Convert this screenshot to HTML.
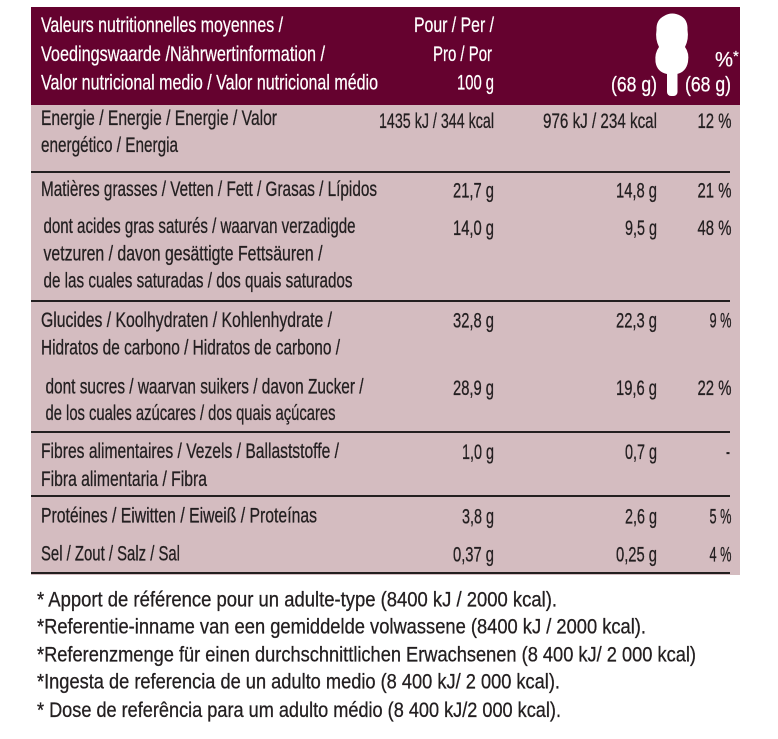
<!DOCTYPE html>
<html>
<head>
<meta charset="utf-8">
<style>
html,body{margin:0;padding:0;background:#fff;}
svg{display:block;}
text{font-family:"Liberation Sans",sans-serif;}
.h{fill:#ffffff;font-size:21px;stroke:#ffffff;stroke-width:0.25px;}
.l{fill:#231f20;font-size:21px;stroke:#231f20;stroke-width:0.3px;}
.v{fill:#231f20;font-size:21px;text-anchor:end;stroke:#231f20;stroke-width:0.3px;}
.f{fill:#231f20;font-size:21px;stroke:#231f20;stroke-width:0.3px;}
</style>
</head>
<body>
<svg width="778" height="739" viewBox="0 0 778 739" xmlns="http://www.w3.org/2000/svg">
  <!-- header -->
  <rect x="31" y="7" width="709" height="98" fill="#65022f"/>
  <!-- body -->
  <rect x="31" y="105" width="709" height="470" fill="#d4bcc0"/>

  <!-- header texts -->
  <text class="h" x="41" y="32" textLength="242" lengthAdjust="spacingAndGlyphs">Valeurs nutritionnelles moyennes /</text>
  <text class="h" x="41" y="61" textLength="284" lengthAdjust="spacingAndGlyphs">Voedingswaarde /Nährwertinformation /</text>
  <text class="h" x="41" y="89.5" textLength="337" lengthAdjust="spacingAndGlyphs">Valor nutricional medio / Valor nutricional médio</text>

  <text class="h" x="494" y="32" text-anchor="end" textLength="80" lengthAdjust="spacingAndGlyphs">Pour / Per /</text>
  <text class="h" x="492" y="61" text-anchor="end" textLength="59" lengthAdjust="spacingAndGlyphs">Pro / Por</text>
  <text class="h" x="494" y="89.5" text-anchor="end" textLength="37" lengthAdjust="spacingAndGlyphs">100 g</text>

  <text class="h" x="611" y="91.5" textLength="46" lengthAdjust="spacingAndGlyphs">(68 g)</text>
  <text class="h" x="685" y="91.5" textLength="46" lengthAdjust="spacingAndGlyphs">(68 g)</text>
  <text class="h" x="715" y="66.5" textLength="18" lengthAdjust="spacingAndGlyphs">%</text>
  <text class="h" x="733" y="61" style="font-size:15px">*</text>

  <!-- ice cream icon -->
  <g fill="#ffffff">
    <path d="M664 16 Q672 11 681 16 Q688 20 687.5 30 Q689 39 685 47 Q689.5 53 688 62 Q686 72 677 74 L667 74 Q657 72 655.5 62 Q654.5 53 659 47 Q655 39 656.5 30 Q656 20 664 16 Z"/>
    <rect x="667" y="70" width="10.5" height="26" rx="4"/>
  </g>

  <!-- separator lines -->
  <g fill="#231f20">
    <rect x="31" y="171" width="699" height="2"/>
    <rect x="31" y="300" width="699" height="2"/>
    <rect x="31" y="431" width="699" height="2"/>
    <rect x="31" y="495" width="699" height="2"/>
    <rect x="31" y="572" width="699" height="2"/>
  </g>

  <!-- labels -->
  <text class="l" x="41" y="125" textLength="236" lengthAdjust="spacingAndGlyphs">Energie / Energie / Energie / Valor</text>
  <text class="l" x="41" y="152" textLength="137" lengthAdjust="spacingAndGlyphs">energético / Energia</text>
  <text class="l" x="41" y="196" textLength="336" lengthAdjust="spacingAndGlyphs">Matières grasses / Vetten / Fett / Grasas / Lípidos</text>
  <text class="l" x="43.5" y="233" textLength="312" lengthAdjust="spacingAndGlyphs">dont acides gras saturés / waarvan verzadigde</text>
  <text class="l" x="43.5" y="260.5" textLength="279" lengthAdjust="spacingAndGlyphs">vetzuren / davon gesättigte Fettsäuren /</text>
  <text class="l" x="43.5" y="287.5" textLength="309" lengthAdjust="spacingAndGlyphs">de las cuales saturadas / dos quais saturados</text>
  <text class="l" x="41" y="327" textLength="291" lengthAdjust="spacingAndGlyphs">Glucides / Koolhydraten / Kohlenhydrate /</text>
  <text class="l" x="41" y="354.5" textLength="299" lengthAdjust="spacingAndGlyphs">Hidratos de carbono / Hidratos de carbono /</text>
  <text class="l" x="45.5" y="393.5" textLength="318" lengthAdjust="spacingAndGlyphs">dont sucres / waarvan suikers / davon Zucker /</text>
  <text class="l" x="45.5" y="420" textLength="290" lengthAdjust="spacingAndGlyphs">de los cuales azúcares / dos quais açúcares</text>
  <text class="l" x="41" y="458" textLength="298" lengthAdjust="spacingAndGlyphs">Fibres alimentaires / Vezels / Ballaststoffe /</text>
  <text class="l" x="41" y="486" textLength="166" lengthAdjust="spacingAndGlyphs">Fibra alimentaria / Fibra</text>
  <text class="l" x="41" y="522.5" textLength="276" lengthAdjust="spacingAndGlyphs">Protéines / Eiwitten / Eiweiß / Proteínas</text>
  <text class="l" x="41" y="560.5" textLength="139" lengthAdjust="spacingAndGlyphs">Sel / Zout / Salz / Sal</text>

  <!-- values -->
  <text class="v" x="494" y="128" textLength="115" lengthAdjust="spacingAndGlyphs">1435 kJ / 344 kcal</text>
  <text class="v" x="657" y="128" textLength="114" lengthAdjust="spacingAndGlyphs">976 kJ / 234 kcal</text>
  <text class="v" x="731.5" y="128" textLength="34" lengthAdjust="spacingAndGlyphs">12 %</text>

  <text class="v" x="494" y="197.5" textLength="41" lengthAdjust="spacingAndGlyphs">21,7 g</text>
  <text class="v" x="657" y="197.5" textLength="41" lengthAdjust="spacingAndGlyphs">14,8 g</text>
  <text class="v" x="731.5" y="197.5" textLength="34" lengthAdjust="spacingAndGlyphs">21 %</text>

  <text class="v" x="494" y="235" textLength="41" lengthAdjust="spacingAndGlyphs">14,0 g</text>
  <text class="v" x="657" y="235" textLength="32" lengthAdjust="spacingAndGlyphs">9,5 g</text>
  <text class="v" x="731.5" y="235" textLength="34" lengthAdjust="spacingAndGlyphs">48 %</text>

  <text class="v" x="494" y="327.5" textLength="41" lengthAdjust="spacingAndGlyphs">32,8 g</text>
  <text class="v" x="657" y="327.5" textLength="41" lengthAdjust="spacingAndGlyphs">22,3 g</text>
  <text class="v" x="731.5" y="327.5" textLength="22" lengthAdjust="spacingAndGlyphs">9 %</text>

  <text class="v" x="494" y="395" textLength="41" lengthAdjust="spacingAndGlyphs">28,9 g</text>
  <text class="v" x="657" y="395" textLength="41" lengthAdjust="spacingAndGlyphs">19,6 g</text>
  <text class="v" x="731.5" y="395" textLength="34" lengthAdjust="spacingAndGlyphs">22 %</text>

  <text class="v" x="494" y="459" textLength="32" lengthAdjust="spacingAndGlyphs">1,0 g</text>
  <text class="v" x="657" y="459" textLength="32" lengthAdjust="spacingAndGlyphs">0,7 g</text>
  <text class="v" x="730" y="459" textLength="4" lengthAdjust="spacingAndGlyphs">-</text>

  <text class="v" x="494" y="523.5" textLength="32" lengthAdjust="spacingAndGlyphs">3,8 g</text>
  <text class="v" x="657" y="523.5" textLength="32" lengthAdjust="spacingAndGlyphs">2,6 g</text>
  <text class="v" x="731.5" y="523.5" textLength="22" lengthAdjust="spacingAndGlyphs">5 %</text>

  <text class="v" x="494" y="561.5" textLength="41" lengthAdjust="spacingAndGlyphs">0,37 g</text>
  <text class="v" x="657" y="561.5" textLength="41" lengthAdjust="spacingAndGlyphs">0,25 g</text>
  <text class="v" x="731.5" y="561.5" textLength="22" lengthAdjust="spacingAndGlyphs">4 %</text>

  <!-- footnotes -->
  <text class="f" x="37" y="606.5" textLength="520" lengthAdjust="spacingAndGlyphs">* Apport de référence pour un adulte-type (8400 kJ / 2000 kcal).</text>
  <text class="f" x="37" y="633.5" textLength="609" lengthAdjust="spacingAndGlyphs">*Referentie-inname van een gemiddelde volwassene (8400 kJ / 2000 kcal).</text>
  <text class="f" x="37" y="661.5" textLength="659" lengthAdjust="spacingAndGlyphs">*Referenzmenge für einen durchschnittlichen Erwachsenen (8 400 kJ/ 2 000 kcal)</text>
  <text class="f" x="37" y="688.5" textLength="523" lengthAdjust="spacingAndGlyphs">*Ingesta de referencia de un adulto medio (8 400 kJ/ 2 000 kcal).</text>
  <text class="f" x="37" y="717" textLength="524" lengthAdjust="spacingAndGlyphs">* Dose de referência para um adulto médio (8 400 kJ/2 000 kcal).</text>
</svg>
</body>
</html>
